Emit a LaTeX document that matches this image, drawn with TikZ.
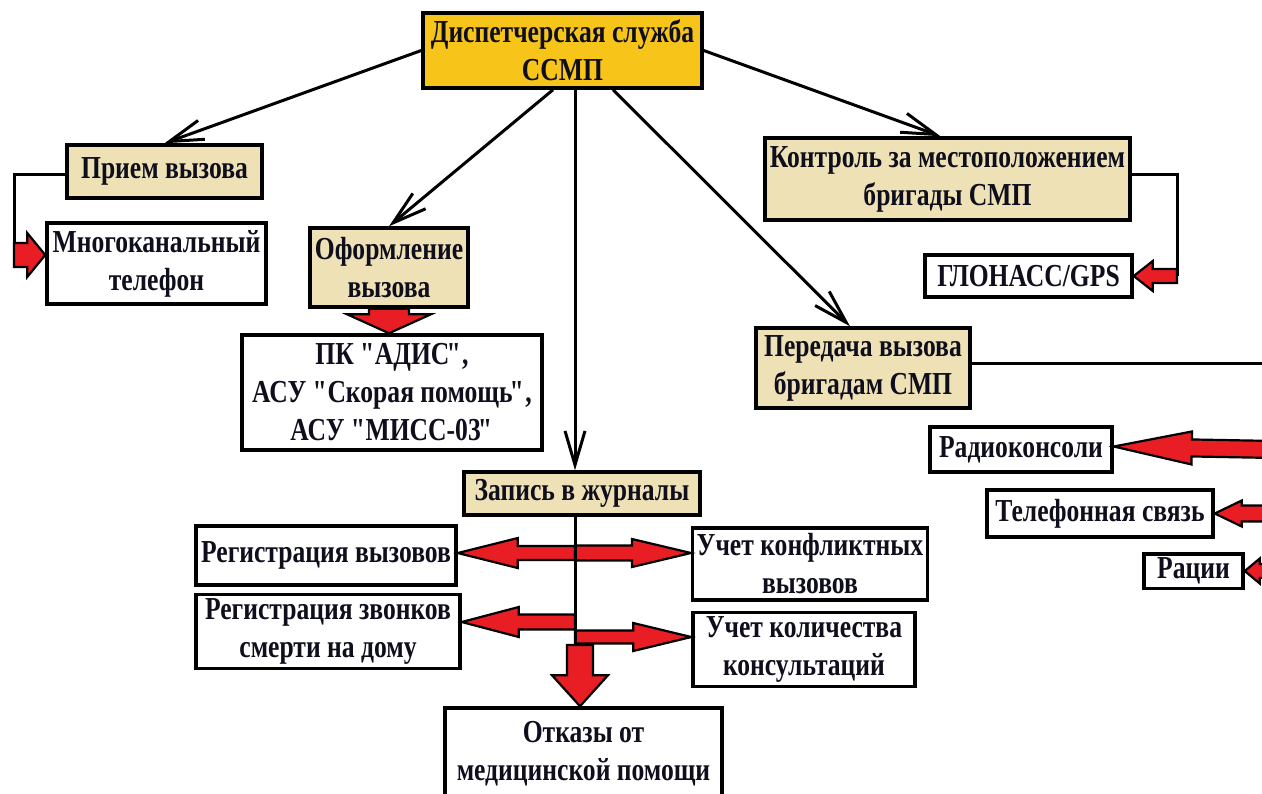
\documentclass[tikz,border=0pt]{standalone}
\usepackage{fontspec}
\setmainfont[FakeStretch=0.8]{Liberation Serif}
\usetikzlibrary{calc, arrows.meta}

\definecolor{GoldFill}{RGB}{247,196,26}
\definecolor{TanFill}{RGB}{238,225,182}
\definecolor{ArrowRed}{RGB}{232,30,36}
\definecolor{InkCol}{RGB}{14,14,28}

% straight quotes, set a little tighter
\newcommand\qo{\textquotedbl\kern-1.5pt}
\newcommand\qc{\kern-1.5pt\textquotedbl\kern-1pt}

% block arrow: start, end, half shaft, half head, head length
\newcommand\fatarrow[5]{%
  \coordinate (fa-s) at (#1);
  \coordinate (fa-e) at (#2);
  \coordinate (fa-b) at ($(fa-e)!#5!(fa-s)$);
  \draw[RedArrow]
  ($(fa-s)!#3!90:(fa-e)$) -- ($(fa-b)!#3!90:(fa-e)$) -- ($(fa-b)!#4!90:(fa-e)$)
  -- (fa-e)
  -- ($(fa-b)!#4!-90:(fa-e)$) -- ($(fa-b)!#3!-90:(fa-e)$) -- ($(fa-s)!#3!-90:(fa-e)$)
  -- cycle;
}

\begin{document}
\begin{tikzpicture}[
		x=0.5pt, y=-0.5pt,
		BoxCfg/.style={
			draw=black, line width=1.75pt,
			align=center, inner sep=2pt, text=InkCol,
			font=\bfseries\fontsize{16}{19}\selectfont
		},
		WhiteBox/.style={BoxCfg, fill=white},
		TanBox/.style={BoxCfg, fill=TanFill},
		GoldBox/.style={BoxCfg, fill=GoldFill},
		LineCfg/.style={line width=1.5pt},
		ArrowCfg/.style={LineCfg, -{Straight Barb[length=17pt, width=10pt]}},
		RedArrow/.style={fill=ArrowRed, draw=black, line width=1.1pt, line join=miter}
		]
		
		\useasboundingbox (0,0) rectangle (1262,793);
		\clip (0,0) rectangle (1262,793);
		\fill[white] (0,0) rectangle (1262,793);
		
		\path
		(562.5,50.5) node [GoldBox, minimum width=139.5pt, minimum height=37.5pt] (Disp) {Диспетчерская служба\\ССМП}
		(164.5,171.5) node [TanBox, minimum width=97.5pt, minimum height=26.5pt] (Priem) {Прием вызова}
		(156.5,263.5) node [WhiteBox, minimum width=109.5pt, minimum height=40.5pt] (Mnogo) {Многоканальный\\телефон}
		(389,267.5) node [TanBox, minimum width=79pt, minimum height=39.5pt] (Oform) {Оформление\\вызова}
		(392,392.5) node [WhiteBox, minimum width=150pt, minimum height=57.5pt] (Pk) {ПК \qo АДИС\qc,\\АСУ \qo Скорая помощь\qc,\\АСУ \qo МИСС-03\qc}
		(947.5,179) node [TanBox, minimum width=182.5pt, minimum height=41pt] (Kontrol) {Контроль за местоположением\\бригады СМП}
		(1028.5,276) node [WhiteBox, minimum width=103.5pt, minimum height=21pt] (Glonass) {ГЛОНАСС/GPS}
		(863,368) node [TanBox, minimum width=107pt, minimum height=40pt] (Pered) {Передача вызова\\бригадам СМП}
		(1021,449.5) node [WhiteBox, minimum width=91pt, minimum height=22.5pt] (Radio) {Радиоконсоли}
		(1100,513.5) node [WhiteBox, minimum width=113pt, minimum height=23.5pt] (Telef) {Телефонная связь}
		(1193.5,571) node [WhiteBox, minimum width=49.5pt, minimum height=16pt] (Racii) {Рации}
		(582,493.5) node [TanBox, minimum width=118pt, minimum height=21.5pt] (Zapis) {Запись в журналы}
		(326,555.5) node [WhiteBox, minimum width=130pt, minimum height=29.5pt] (RegVyz) {Регистрация вызовов}
		(810,564) node [WhiteBox, minimum width=117pt, minimum height=36pt] (UchKonf) {Учет конфликтных\\вызовов}
		(328,631.5) node [WhiteBox, minimum width=132pt, minimum height=35.5pt] (RegZv) {Регистрация звонков\\смерти на дому}
		(804,649.5) node [WhiteBox, minimum width=111pt, minimum height=36.5pt] (UchKol) {Учет количества\\консультаций}
		(583.5,754) node [WhiteBox, minimum width=138.5pt, minimum height=46pt] (Otkaz) {Отказы от\\медицинской помощи};
		
		\coordinate (Trunk) at (575,0);
		\coordinate (PriemTurn) at (14,255);
		\coordinate (KontrolTurn) at (1177,276);
		\coordinate (PeredOut) at (1275,363);
		\coordinate (RowA) at (575,553);
		\coordinate (RowB) at (575,622);
		\coordinate (RowC) at (575,637);
		\coordinate (TrunkEnd) at (580,645);
		
		\draw[ArrowCfg]
		(Disp.west) -- (Priem.north);
		\draw[ArrowCfg]
		([xshift=-4.75pt]Disp.south) -- (Oform.north);
		\draw[ArrowCfg]
		(Disp.south -| Trunk) -- (Zapis.north -| Trunk);
		\draw[ArrowCfg]
		([xshift=25.25pt]Disp.south) -- ([xshift=-6.5pt]Pered.north);
		\draw[ArrowCfg]
		(Disp.east) -- ([xshift=-3.5pt]Kontrol.north);
		
		\draw[LineCfg]
		([yshift=-1.25pt]Priem.west) -| (PriemTurn)
		([yshift=2.5pt]Kontrol.east) -| (KontrolTurn)
		(Pered.east |- PeredOut) -- (PeredOut);
		
		\fatarrow{PriemTurn}{Mnogo.west |- PriemTurn}{6pt}{11pt}{9pt}
		\fatarrow{KontrolTurn}{Glonass.east}{3.5pt}{7.5pt}{9.5pt}
		\fatarrow{Oform.south}{Pk.north -| Oform.south}{10pt}{21pt}{9.5pt}
		
		\fatarrow{Radio.east -| PeredOut}{[yshift=1.5pt]Radio.east}{4.25pt}{8.25pt}{39pt}
		\fatarrow{Telef.east -| PeredOut}{Telef.east}{4pt}{6.5pt}{13.5pt}
		\fatarrow{Racii.east -| PeredOut}{Racii.east}{3.5pt}{6.25pt}{7.5pt}
		
		\fatarrow{RowA}{RegVyz.east |- RowA}{3.5pt}{7.5pt}{30pt}
		\fatarrow{RowA}{UchKonf.west |- RowA}{3.75pt}{7pt}{29.5pt}
		\fatarrow{RowB}{RegZv.east |- RowB}{3.75pt}{7.5pt}{28.5pt}
		\fatarrow{RowC}{UchKol.west |- RowC}{3.25pt}{7pt}{29pt}
		
		\draw[LineCfg]
		(Zapis.south -| Trunk) -- (TrunkEnd -| Trunk);
		
		\fatarrow{TrunkEnd}{Otkaz.north -| TrunkEnd}{6.5pt}{14pt}{15.5pt}
		\end{tikzpicture}
\end{document}
